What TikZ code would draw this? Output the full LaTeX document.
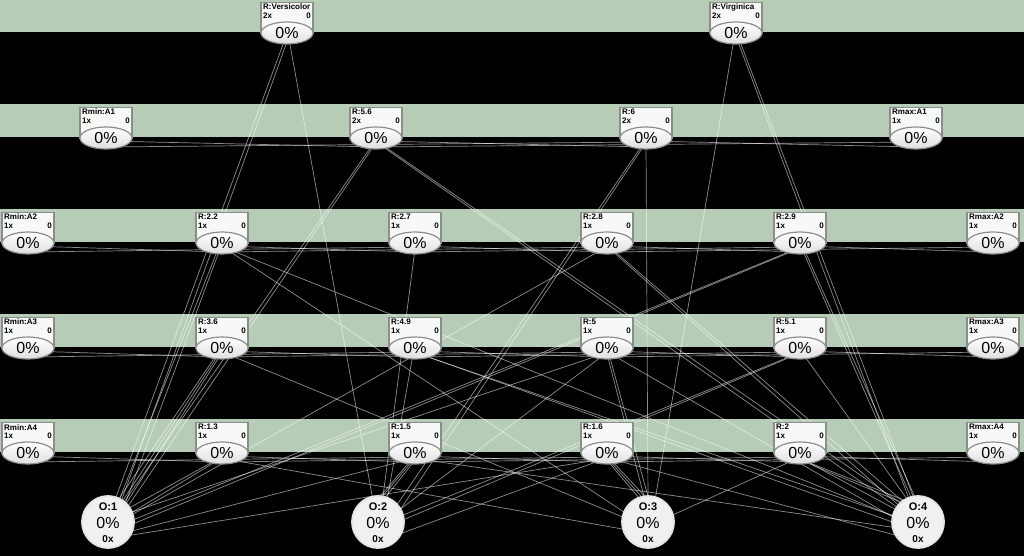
\documentclass[tikz,border=0pt]{standalone}
\usepackage{fontspec}
\setmainfont{Liberation Sans}
\usetikzlibrary{shapes.geometric,calc}
\pgfdeclarelayer{bg}
\pgfdeclarelayer{edges}
\pgfsetlayers{bg,edges,main}
\definecolor{band}{HTML}{B7CCB7}
\definecolor{nodebd}{HTML}{8C8C8C}
\definecolor{boxfill}{HTML}{F7F9F7}
\tikzset{
  box/.style={draw=nodebd, line width=1.2pt, fill=boxfill, minimum width=52pt, minimum height=31pt, inner sep=0pt, anchor=north},
  ell/.style={ellipse, draw=nodebd, line width=1.2pt, top color=white, bottom color=gray!25, minimum width=52pt, minimum height=22pt, inner sep=0pt, font=\fontsize{16}{16}\selectfont},
  lbl/.style={font=\bfseries\fontsize{8}{8}\selectfont, inner sep=0pt, anchor=north west},
  outn/.style={circle, draw=white!90!black, line width=1.8pt, fill=gray!12, minimum size=52pt, inner sep=0pt},
  link/.style={draw=white, draw opacity=0.55, line width=0.7pt},
}
\newcommand\mkhid[5]{%
  \node[box] (#1-b) at (#2,#3-31) {};
  \node[lbl] (#1-l) at (#2-24,#3-29) {#4};
  \node[lbl] (#1-c) at (#2-24,#3-20) {#5};
  \node[lbl,anchor=north east] (#1-z) at (#2+24,#3-20) {0};
  \node[ell] (#1) at (#2,#3) {0\%};}
\newcommand\mkout[3]{%
  \node[outn] (#1) at (#2,522) {};
  \node[font=\bfseries\fontsize{11}{11}\selectfont, inner sep=0pt] (#1-t) at (#2,507) {O:#3};
  \node[font=\fontsize{16}{16}\selectfont, inner sep=0pt] (#1-p) at (#2,523) {0\%};
  \node[font=\bfseries\fontsize{10}{10}\selectfont, inner sep=0pt] (#1-x) at (#2,539) {0x};}
\begin{document}
\begin{tikzpicture}[x=1pt,y=-1pt]
\useasboundingbox (0,0) rectangle (1024,556);
\begin{pgfonlayer}{bg}
  \fill[black] (0,0) rectangle (1024,556);
  \foreach \t/\b in {-1/32,104/137,209/242,314/347,419/452}
    \fill[band] (0,\t) rectangle (1024,\b);
\end{pgfonlayer}
% row 1
\mkhid{vers}{287}{33}{R:Versicolor}{2x}
\mkhid{virg}{736}{33}{R:Virginica}{2x}
% row 2
\mkhid{aminA}{106}{138}{Rmin:A1}{1x}
\mkhid{rfivesix}{376}{138}{R:5.6}{2x}
\mkhid{rsix}{646}{138}{R:6}{2x}
\mkhid{amaxA}{916}{138}{Rmax:A1}{1x}
% row 3
\mkhid{aminB}{28}{243}{Rmin:A2}{1x}
\mkhid{rtwotwo}{222}{243}{R:2.2}{1x}
\mkhid{rtwoseven}{415}{243}{R:2.7}{1x}
\mkhid{rtwoeight}{607}{243}{R:2.8}{1x}
\mkhid{rtwonine}{800}{243}{R:2.9}{1x}
\mkhid{amaxB}{993}{243}{Rmax:A2}{1x}
% row 4
\mkhid{aminC}{28}{348}{Rmin:A3}{1x}
\mkhid{rthreesix}{222}{348}{R:3.6}{1x}
\mkhid{rfournine}{415}{348}{R:4.9}{1x}
\mkhid{rfive}{607}{348}{R:5}{1x}
\mkhid{rfiveone}{800}{348}{R:5.1}{1x}
\mkhid{amaxC}{993}{348}{Rmax:A3}{1x}
% row 5
\mkhid{aminD}{28}{453}{Rmin:A4}{1x}
\mkhid{ronethree}{222}{453}{R:1.3}{1x}
\mkhid{ronefive}{415}{453}{R:1.5}{1x}
\mkhid{ronesix}{607}{453}{R:1.6}{1x}
\mkhid{rtwo}{800}{453}{R:2}{1x}
\mkhid{amaxD}{993}{453}{Rmax:A4}{1x}
% outputs
\mkout{oa}{108}{1}
\mkout{ob}{378}{2}
\mkout{oc}{648}{3}
\mkout{od}{918}{4}
\begin{pgfonlayer}{edges}
  % within-row links
  \foreach \a/\b in {aminA/rfivesix,rfivesix/rsix,rsix/amaxA,
      aminB/rtwotwo,rtwotwo/rtwoseven,rtwoseven/rtwoeight,rtwoeight/rtwonine,rtwonine/amaxB,
      aminC/rthreesix,rthreesix/rfournine,rfournine/rfive,rfive/rfiveone,rfiveone/amaxC,
      aminD/ronethree,ronethree/ronefive,ronefive/ronesix,ronesix/rtwo,rtwo/amaxD}
    \draw[link] ($(\a)+(0,3)$) -- ($(\b)+(0,9)$);
  \foreach \a/\b in {aminA/rsix,rfivesix/amaxA,
      aminB/rtwoseven,rtwotwo/rtwoeight,rtwoseven/rtwonine,rtwoeight/amaxB,
      aminC/rfournine,rthreesix/rfive,rfournine/rfiveone,rfive/amaxC,
      aminD/ronefive,ronethree/ronesix,ronefive/rtwo,ronesix/amaxD}
    \draw[link] ($(\a)+(0,9)$) -- ($(\b)+(0,4)$);
  % links to outputs: source / target / source dx / target dx / target dy
  \foreach \a/\b/\px/\qx/\qy in {
      vers/oa/-2/4/-14, vers/oa/1/10/-12,
      vers/ob/2/-4/-16,
      virg/oc/-2/6/-16,
      virg/od/1/-6/-15, virg/od/3/-2/-18,
      rfivesix/oa/-3/12/-14, rfivesix/oa/-1/16/-10,
      rfivesix/od/3/-14/-10, rfivesix/od/5/-10/-14,
      rsix/ob/-3/14/-10, rsix/ob/-1/18/-6,
      rsix/oc/0/0/-20,
      rtwotwo/oa/-4/8/-14, rtwotwo/oa/-2/14/-10,
      rtwotwo/oc/4/-18/-6, rtwotwo/od/6/-20/-4,
      rtwoseven/ob/0/4/-18,
      rtwoeight/oa/-4/18/-4,
      rtwoeight/od/3/-14/-12, rtwoeight/od/5/-10/-16,
      rtwonine/oa/-4/20/0, rtwonine/oa/-2/20/4,
      rtwonine/od/2/-4/-18, rtwonine/od/4/0/-18,
      rthreesix/oa/-5/6/-16, rthreesix/oa/-3/10/-14, rthreesix/oa/-1/14/-12,
      rthreesix/oc/5/-18/-2,
      rfournine/ob/-2/8/-16,
      rfournine/od/4/-18/-4, rfournine/od/5/-20/2,
      rfive/oa/-4/18/-8,
      rfive/ob/-2/16/-8,
      rfive/oc/0/-2/-18, rfive/oc/2/2/-18,
      rfive/od/4/-20/-2,
      rfiveone/ob/-4/18/-4, rfiveone/ob/-2/20/0,
      rfiveone/od/3/-6/-16,
      ronethree/oa/-4/14/-10, ronethree/oa/-2/18/-6,
      ronethree/oc/4/-20/8,
      ronefive/oa/-4/20/10,
      ronefive/ob/-3/-6/-16, ronefive/ob/-1/-2/-18, ronefive/ob/1/2/-18,
      ronefive/od/4/-20/6,
      ronesix/oa/-4/18/14,
      ronesix/ob/-3/16/14,
      ronesix/oc/-1/-4/-18, ronesix/oc/1/0/-18, ronesix/oc/3/4/-18,
      ronesix/od/4/-12/16,
      rtwo/oc/-4/18/-4,
      rtwo/od/-2/-8/-16, rtwo/od/0/-4/-18, rtwo/od/2/-14/-8}
    \draw[link] ($(\a)+(\px,6)$) -- ($(\b)+(\qx,\qy)$);
\end{pgfonlayer}
\end{tikzpicture}
\end{document}
